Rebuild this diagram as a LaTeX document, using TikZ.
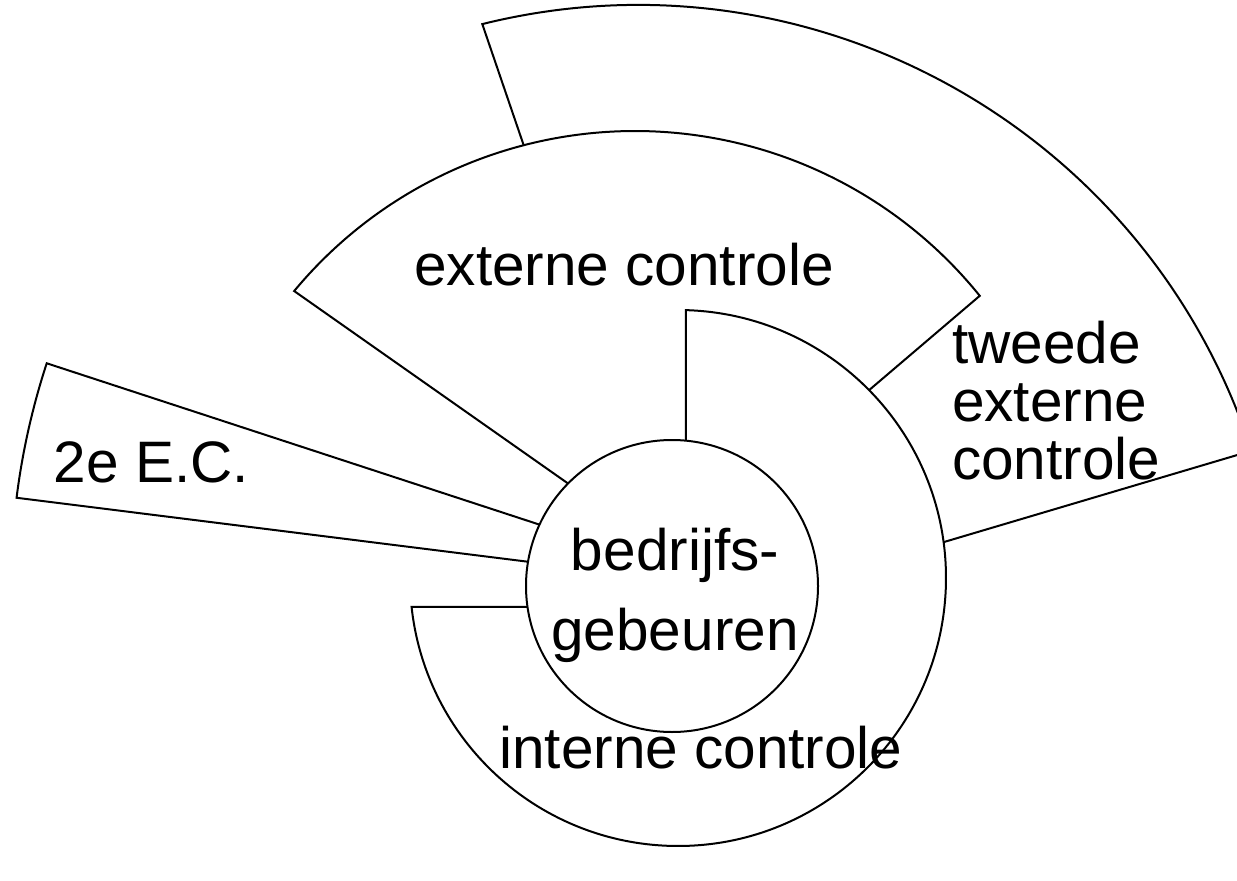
\documentclass[tikz,border=0pt]{standalone}
\usepackage{fontspec}
\setmainfont{Liberation Sans}
\usepackage{tikz}
\usetikzlibrary{calc}

\begin{document}
\begin{tikzpicture}[x=0.5pt, y=0.5pt, line width=1pt,
		sector/.style={draw=black, fill=white},
		lbl/.style={font=\fontsize{29.25}{29}\selectfont, inner sep=0pt}]
	\useasboundingbox (0,0) rectangle (1237,880);
	\clip (0,0) rectangle (1237,880);

	\coordinate (TC)  at (638,230);
	\coordinate (EC2) at (730,293);
	\coordinate (EC)  at (635,306);
	\coordinate (IC)  at (678,302);
	\coordinate (BG)  at (672,294);

	\draw[sector] (540,687) -- ($(TC)+(103.97:645)$) arc[start angle=103.97, end angle=17.99, radius=645]
		-- (880,319) -- (BG) -- cycle;
	\draw[sector] (EC2) -- ($(EC2)+(161.87:719)$) arc[start angle=161.87, end angle=172.87, radius=719] -- cycle;
	\draw[sector] (620,360) -- ($(EC)+(140.3:443)$) arc[start angle=140.3, end angle=38.9, radius=443]
		-- (712,356) -- cycle;
	\draw[sector] (686,300) -- ($(IC)+(88.3:268)$) arc[start angle=88.3, end angle=-173.8, radius=268]
		-- (600,273) -- cycle;
	\node[sector, circle, minimum size=146pt] (bg) at (BG) {};

	\node[lbl, anchor=base] (ext) at (624,595) {externe controle};
	\node[lbl, anchor=base west, align=left] (tweede) at (951,401) {tweede\\externe\\controle};
	\node[lbl, anchor=base west] (ec2) at (53,398) {2e E.C.};
	\node[lbl, anchor=base, align=center, font=\fontsize{29.25}{40}\selectfont] (bedrijf) at (675,230) {bedrijfs-\\gebeuren};
	\node[lbl, anchor=base] (int) at (701,112) {interne controle};
\end{tikzpicture}
\end{document}
